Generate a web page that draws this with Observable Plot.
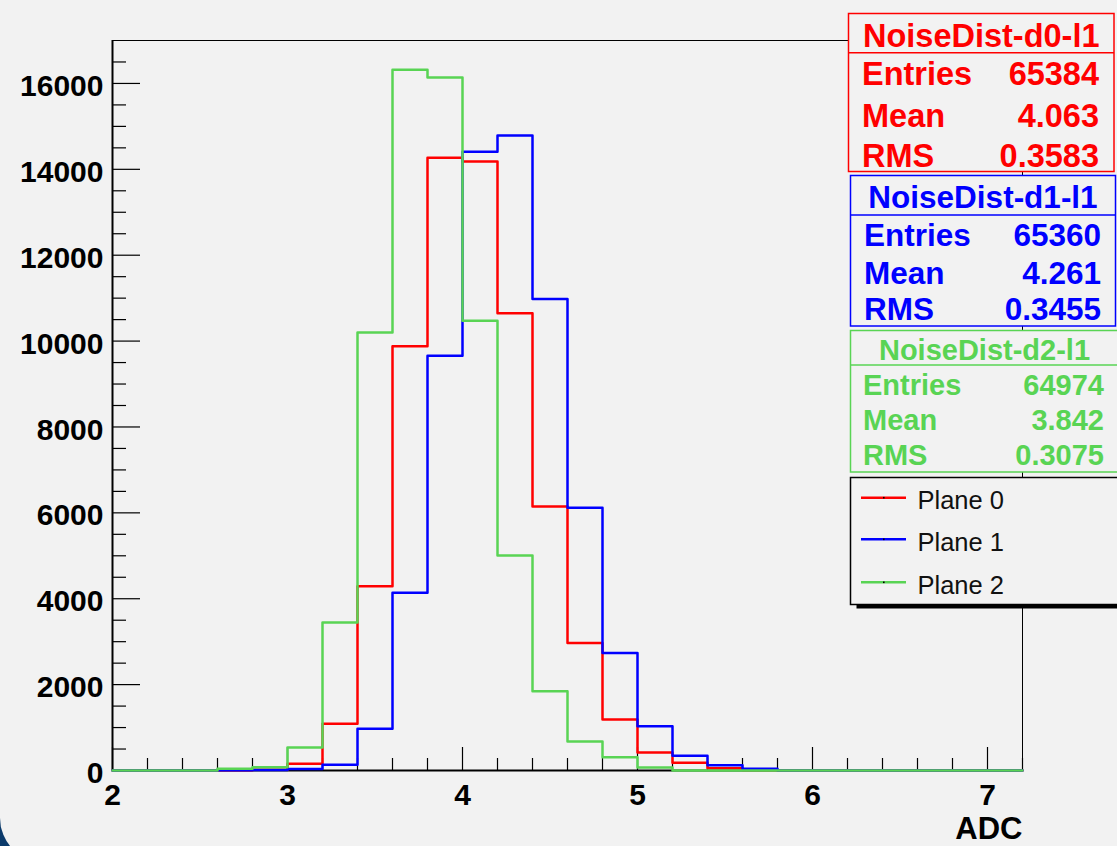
<!DOCTYPE html>
<html>
<head>
<meta charset="utf-8">
<script src="https://cdn.jsdelivr.net/npm/d3@7"></script>
<script src="https://cdn.jsdelivr.net/npm/@observablehq/plot@0.6"></script>
<style>
  html, body { margin: 0; padding: 0; overflow: hidden; background: #0b3a6b; }
  #wrap { position: relative; width: 1117px; height: 846px; overflow: hidden; background: #0b3a6b; }
  #pad { position: absolute; left: 0; top: 0; width: 1117px; height: 862px; background: #f2f2f2; border-bottom-left-radius: 44px; }
  #pad svg { position: absolute; left: 0; top: 0; }
</style>
</head>
<body>
<div id="wrap"><div id="pad"></div></div>
<script>
// Histogram bin edges (ADC) — 26 bins of width 0.2 from 2.0 to 7.2
const binEdges = [2.0, 2.2, 2.4, 2.6, 2.8, 3.0, 3.2, 3.4, 3.6, 3.8, 4.0, 4.2, 4.4,
                  4.6, 4.8, 5.0, 5.2, 5.4, 5.6, 5.8, 6.0, 6.2, 6.4, 6.6, 6.8, 7.0, 7.2];

// Bin contents per plane
const plane0Counts = [0, 0, 0, 5, 15, 155, 1090, 4290, 9880, 14270, 14180, 10650, 6150,
                      2970, 1190, 420, 180, 55, 10, 0, 0, 0, 0, 0, 0, 0];
const plane1Counts = [0, 0, 0, 5, 12, 35, 132, 970, 4140, 9660, 14410, 14790, 10980,
                      6120, 2735, 1032, 341, 124, 39, 0, 0, 0, 0, 0, 0, 0];
const plane2Counts = [0, 0, 0, 38, 75, 535, 3445, 10200, 16320, 16140, 10475, 5005, 1846,
                      675, 310, 70, 0, 0, 0, 0, 0, 0, 0, 0, 0, 0];

const planeNames  = ["Plane 0", "Plane 1", "Plane 2"];
const planeColors = ["#ff0000", "#0000ff", "#59d454"];

// Statistics boxes
const statsTitles  = ["NoiseDist-d0-l1", "NoiseDist-d1-l1", "NoiseDist-d2-l1"];
const statsEntries = ["65384", "65360", "64974"];
const statsMeans   = ["4.063", "4.261", "3.842"];
const statsRMS     = ["0.3583", "0.3455", "0.3075"];
const statsLabels  = ["Entries", "Mean", "RMS"];

// Axis ticks
const xLabelTicks = [2, 3, 4, 5, 6, 7];
const yLabelTicks = [0, 2000, 4000, 6000, 8000, 10000, 12000, 14000, 16000];
const xMinorTicks = d3.range(2, 7.21, 0.2).filter(v => Math.abs(v - Math.round(v)) > 1e-6);
const yMinorTicks = d3.range(0, 17000, 500).filter(v => v % 2000 !== 0);

const axisTitle = "ADC";

// Step outlines: each bin's content drawn from its low edge, closed at the top edge
const allCounts = [plane0Counts, plane1Counts, plane2Counts];
const steps = [];
allCounts.forEach((counts, p) => {
  counts.forEach((c, i) => steps.push({plane: planeNames[p], x: binEdges[i], y: c}));
  steps.push({plane: planeNames[p], x: binEdges[counts.length], y: counts[counts.length - 1]});
});

const W = 1117, H = 846;
const mL = 112, mR = 95, mT = 40, mB = 76;
const frameW = W - mL - mR, frameH = H - mT - mB;
const font = "'Liberation Sans', Arial, Helvetica, sans-serif";

const chart = Plot.plot({
  width: W,
  height: H,
  marginLeft: mL, marginRight: mR, marginTop: mT, marginBottom: mB,
  style: {background: "transparent", fontFamily: font, overflow: "visible"},
  x: {domain: [2, 7.2]},
  y: {domain: [0, 17000]},
  color: {domain: planeNames, range: planeColors},
  marks: [
    // frame
    Plot.ruleY([17000], {stroke: "black", strokeWidth: 1}),
    Plot.ruleX([7.2], {stroke: "black", strokeWidth: 1}),
    Plot.ruleY([0], {stroke: "black", strokeWidth: 2}),
    Plot.ruleX([2], {stroke: "black", strokeWidth: 2}),
    // inward ticks
    Plot.tickY(yLabelTicks, {insetRight: frameW - 28, stroke: "black", strokeWidth: 1.2}),
    Plot.tickY(yMinorTicks, {insetRight: frameW - 14, stroke: "black", strokeWidth: 1.2}),
    Plot.tickX(xLabelTicks, {insetTop: frameH - 23, stroke: "black", strokeWidth: 1.2}),
    Plot.tickX(xMinorTicks, {insetTop: frameH - 12, stroke: "black", strokeWidth: 1.2}),
    // histograms
    Plot.line(steps, {x: "x", y: "y", z: "plane", stroke: "plane", strokeWidth: 2.5, curve: "step-after"}),
    // tick labels
    Plot.axisY({ticks: yLabelTicks, tickSize: 0, tickPadding: 9, tickFormat: d => String(d),
                fontSize: 30, fontWeight: "bold", fill: "black", dy: 3, label: null}),
    Plot.axisX({ticks: xLabelTicks, tickSize: 0, tickPadding: 13, tickFormat: d => String(d),
                fontSize: 30, fontWeight: "bold", fill: "black", label: null}),
    Plot.text([axisTitle], {frameAnchor: "bottom-right", textAnchor: "end", lineAnchor: "middle",
                            dy: 59, fontSize: 31, fontWeight: "bold", fill: "black"})
  ]
});
document.getElementById("pad").appendChild(chart);

// Statistics boxes and legend
const boxes = [
  {x: 848.5, y: 13.5, w: 265.5, h: 158, sep: 52.7, fs: 32.5, title: 46.7, rows: [85.3, 126.7, 166.5], lx: 862, vx: 1099},
  {x: 850.5, y: 175.5, w: 265, h: 150.5, sep: 215, fs: 31.5, title: 208.3, rows: [246, 284.3, 320], lx: 864, vx: 1101},
  {x: 850.5, y: 330.5, w: 268, h: 141.5, sep: 365, fs: 29, title: 360, rows: [395, 430, 465], lx: 863, vx: 1104}
];

const over = d3.select("#pad").append("svg")
  .attr("width", W).attr("height", H)
  .style("font-family", font);

boxes.forEach((b, i) => {
  const g = over.append("g").attr("fill", planeColors[i]);
  g.append("rect").attr("x", b.x).attr("y", b.y).attr("width", b.w).attr("height", b.h)
    .attr("fill", "#f2f2f2").attr("stroke", planeColors[i]).attr("stroke-width", 1.5);
  g.append("line").attr("x1", b.x).attr("x2", b.x + b.w).attr("y1", b.sep).attr("y2", b.sep)
    .attr("stroke", planeColors[i]).attr("stroke-width", 1.5);
  g.append("text").attr("x", b.x + b.w / 2).attr("y", b.title).attr("text-anchor", "middle")
    .attr("font-size", b.fs).attr("font-weight", "bold").text(statsTitles[i]);
  const vals = [statsEntries[i], statsMeans[i], statsRMS[i]];
  statsLabels.forEach((lab, r) => {
    g.append("text").attr("x", b.lx).attr("y", b.rows[r]).attr("font-size", b.fs)
      .attr("font-weight", "bold").text(lab);
    g.append("text").attr("x", b.vx).attr("y", b.rows[r]).attr("text-anchor", "end")
      .attr("font-size", b.fs).attr("font-weight", "bold").text(vals[r]);
  });
});

// legend with drop shadow
const leg = {x: 850.5, y: 477.5, w: 270, h: 127, lineY: [497.7, 539.3, 582.3], textY: [509.3, 551, 594]};
over.append("rect").attr("x", leg.x + 6).attr("y", leg.y + 4).attr("width", leg.w).attr("height", leg.h)
  .attr("fill", "#000");
over.append("rect").attr("x", leg.x).attr("y", leg.y).attr("width", leg.w).attr("height", leg.h)
  .attr("fill", "#f2f2f2").attr("stroke", "#000").attr("stroke-width", 1.5);
planeNames.forEach((name, i) => {
  over.append("line").attr("x1", 861).attr("x2", 906).attr("y1", leg.lineY[i]).attr("y2", leg.lineY[i])
    .attr("stroke", planeColors[i]).attr("stroke-width", 2.5);
  over.append("rect").attr("x", 883).attr("y", leg.lineY[i] - 0.8).attr("width", 1.6).attr("height", 1.6)
    .attr("fill", "#000");
  over.append("text").attr("x", 917.5).attr("y", leg.textY[i]).attr("font-size", 25.5)
    .attr("fill", "#111").text(name);
});
</script>
</body>
</html>
